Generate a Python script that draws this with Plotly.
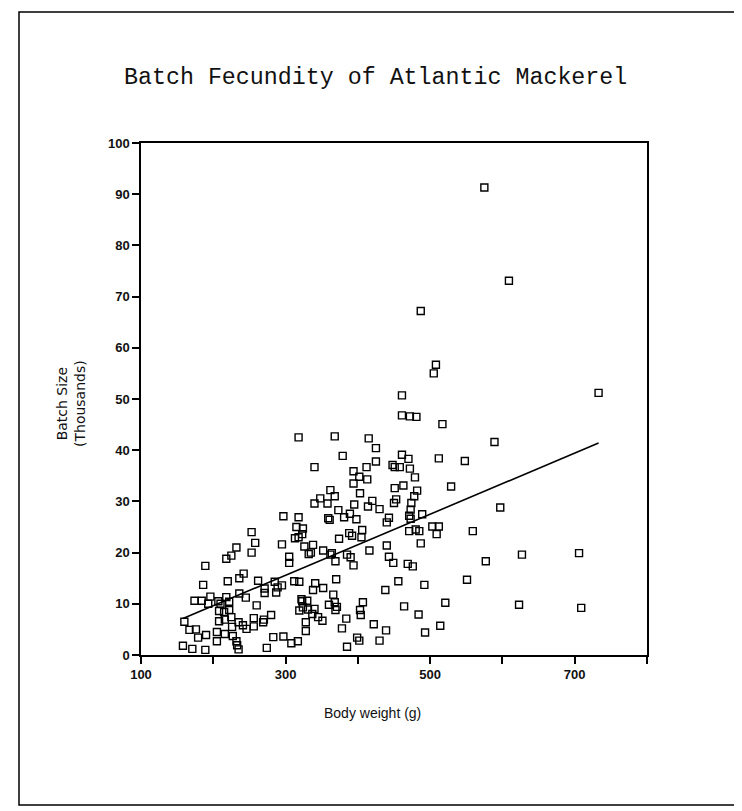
import plotly.graph_objects as go

# ---- data (body weight g, batch size thousands) ----
weight_g = [
    318, 368, 415, 425, 379, 340, 425, 412, 394, 402, 413, 394, 362, 403, 348, 368,
    340, 358, 395, 420, 430, 373, 381, 389, 297, 318, 359, 361, 398, 253, 315, 324,
    323, 406, 388, 392, 258, 313, 318, 374, 253, 232, 225, 218, 295, 326, 338, 335,
    332, 305, 305, 352, 364, 362, 369, 385, 390, 394, 416, 189, 242, 236, 220, 262,
    271, 271, 285, 289, 287, 295, 312, 319, 341, 338, 352, 370, 366, 174, 184, 196,
    193, 207, 210, 218, 222, 236, 245, 222, 215, 225, 260, 322, 323, 330, 319, 324,
    331, 340, 337, 345, 351, 360, 368, 371, 369, 407, 403, 404, 384, 160, 167, 176,
    179, 190, 205, 205, 208, 216, 216, 227, 226, 232, 233, 235, 235, 241, 246, 256,
    256, 269, 270, 280, 283, 297, 308, 317, 328, 328, 378, 385, 399, 402, 422, 430,
    158, 171, 189, 274, 186, 208, 405, 414,
    461, 733, 461, 472, 481, 517, 589, 461, 470, 512, 548, 448, 451, 458, 472, 479,
    451, 463, 482, 529, 453, 450, 478, 474, 473, 471, 473, 489, 443, 440, 597, 471,
    480, 485, 503, 512, 509, 559, 440, 487, 443, 449, 469, 476, 577, 627, 706, 456,
    492, 438, 551, 464, 484, 521, 623, 709, 439, 493, 514, 575, 609, 487, 508, 505,
]
batch_thousands = [
    42.5, 42.7, 42.3, 40.4, 38.9, 36.7, 37.8, 36.7, 35.9, 34.8, 34.3, 33.5, 32.2, 31.6, 30.6, 31.0,
    29.6, 29.6, 29.4, 30.1, 28.5, 28.3, 26.9, 27.6, 27.1, 26.9, 26.7, 26.4, 26.5, 24.0, 25.0, 24.7,
    23.6, 24.4, 23.8, 23.3, 21.9, 22.8, 23.0, 22.7, 20.0, 21.0, 19.4, 18.8, 21.6, 21.2, 21.5, 20.0,
    19.7, 19.2, 18.0, 20.4, 19.9, 19.6, 18.3, 19.6, 19.1, 17.5, 20.4, 17.4, 15.9, 15.0, 14.4, 14.5,
    13.0, 12.1, 14.3, 13.2, 12.2, 13.6, 14.4, 14.3, 14.0, 12.7, 13.1, 14.8, 11.8, 10.6, 10.6, 11.4,
    10.0, 10.5, 10.0, 11.3, 10.4, 12.0, 11.2, 8.8, 8.4, 7.4, 9.7, 10.9, 10.5, 10.6, 8.7, 9.3,
    8.9, 9.0, 8.0, 7.4, 6.7, 9.8, 10.3, 9.4, 8.8, 10.3, 8.8, 7.8, 7.1, 6.5, 4.9, 5.0,
    3.4, 3.9, 4.5, 2.7, 6.6, 6.9, 4.1, 3.7, 5.5, 2.7, 1.9, 1.1, 6.4, 5.8, 5.1, 5.6,
    7.2, 6.4, 6.9, 7.8, 3.5, 3.6, 2.3, 2.7, 4.7, 6.4, 5.2, 1.6, 3.4, 2.8, 6.0, 2.8,
    1.8, 1.2, 1.0, 1.4, 13.7, 8.6, 23.0, 29.0,
    50.7, 51.2, 46.8, 46.6, 46.5, 45.1, 41.6, 39.1, 38.3, 38.4, 37.9, 37.1, 36.7, 36.7, 36.4, 34.7,
    32.6, 33.1, 32.1, 32.9, 30.4, 29.7, 31.0, 29.7, 28.4, 27.2, 26.6, 27.5, 26.8, 25.9, 28.8, 24.2,
    24.5, 24.2, 25.1, 25.1, 23.6, 24.2, 21.4, 21.8, 19.2, 18.0, 17.8, 17.3, 18.3, 19.6, 19.9, 14.4,
    13.7, 12.7, 14.7, 9.5, 7.9, 10.2, 9.8, 9.2, 4.8, 4.4, 5.7, 91.3, 73.1, 67.2, 56.7, 55.0,
]

# regression line
fit_intercept = -2.3
fit_slope = 0.0596

x_tick_values = [100, 200, 300, 400, 500, 600, 700, 800]
x_tick_labels = ["100", "", "300", "", "500", "", "700", ""]
y_tick_values = [0, 10, 20, 30, 40, 50, 60, 70, 80, 90, 100]

title_text = "Batch Fecundity of Atlantic Mackerel"
x_title = "Body weight (g)"
y_title = "Batch Size<br>(Thousands)"

# ---- figure (page has an 8px body margin, so the figure is offset by 8px) ----
OFF = 8
W, H = 742 - OFF, 811 - OFF
L, T = 141 - OFF, 143 - OFF
R = W - (647 - OFF)
B = H - (655 - OFF)
pw, ph = W - L - R, H - T - B


def px_x(p):
    return (p - OFF - L) / pw


def px_y(p):
    return (H - B - (p - OFF)) / ph


fit_x = [min(weight_g), max(weight_g)]
fit_y = [fit_intercept + fit_slope * v for v in fit_x]

fig = go.Figure()
fig.add_trace(go.Scatter(
    x=weight_g, y=batch_thousands, mode="markers",
    marker=dict(symbol="square-open", size=7, color="black",
                line=dict(width=1.4, color="black")),
    showlegend=False, hoverinfo="x+y",
))
fig.add_trace(go.Scatter(
    x=fit_x, y=fit_y, mode="lines",
    line=dict(color="black", width=1.6),
    showlegend=False, hoverinfo="skip",
))

tick_font = dict(family="Liberation Sans, Arial, sans-serif", size=13, color="#111111",
                 weight="bold")

fig.update_layout(
    width=W, height=H,
    margin=dict(l=L, r=R, t=T, b=B),
    paper_bgcolor="white", plot_bgcolor="white",
    showlegend=False,
    xaxis=dict(
        range=[100, 800], tickmode="array", tickvals=x_tick_values, ticktext=x_tick_labels,
        showgrid=False, zeroline=False, showline=True, linecolor="black", linewidth=1.5,
        mirror=True, ticks="outside", ticklen=7, tickwidth=1.5, tickcolor="black",
        tickfont=tick_font, ticklabelstandoff=0,
    ),
    yaxis=dict(
        range=[0, 100], tickmode="array", tickvals=y_tick_values,
        showgrid=False, zeroline=False, showline=True, linecolor="black", linewidth=1.5,
        mirror=True, ticks="outside", ticklen=7, tickwidth=1.5, tickcolor="black",
        tickfont=tick_font,
    ),
    annotations=[
        dict(text=title_text, xref="paper", yref="paper", x=px_x(375), y=px_y(78),
             xanchor="center", yanchor="middle", showarrow=False,
             font=dict(family="Liberation Mono, DejaVu Sans Mono, monospace", size=23.3, color="#111111")),
        dict(text=x_title, xref="paper", yref="paper", x=px_x(372), y=px_y(713),
             xanchor="center", yanchor="middle", showarrow=False,
             font=dict(family="Liberation Sans, Arial, sans-serif", size=14, color="#111111")),
        dict(text=y_title, xref="paper", yref="paper", x=px_x(71), y=px_y(404),
             xanchor="center", yanchor="middle", showarrow=False, textangle=-90,
             font=dict(family="DejaVu Sans, sans-serif", size=14, color="#111111")),
    ],
    shapes=[
        dict(type="rect", xref="paper", yref="paper",
             x0=px_x(19), x1=px_x(735), y0=px_y(805), y1=px_y(12),
             line=dict(color="black", width=1.5), fillcolor="rgba(0,0,0,0)"),
    ],
)

fig.write_html("out.html")
